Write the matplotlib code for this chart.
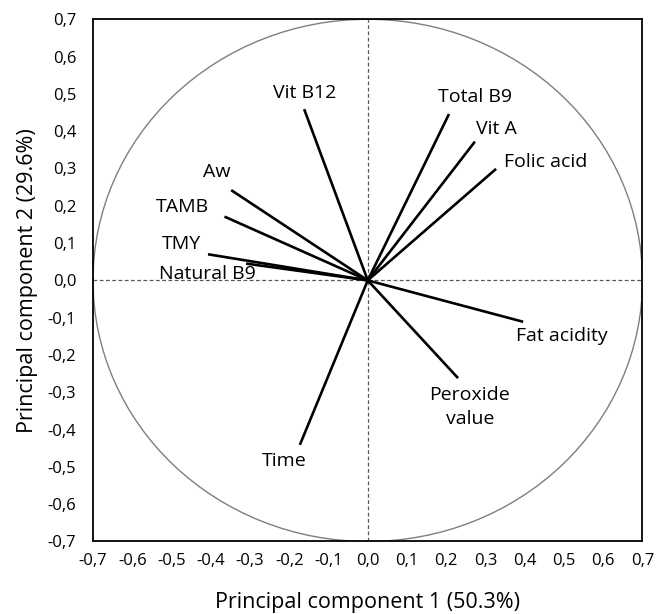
import numpy as np
import matplotlib
matplotlib.use("Agg")
import matplotlib.pyplot as plt
from matplotlib.patches import Ellipse

plt.rcParams['font.family'] = ['Open Sans', 'DejaVu Sans']

# loadings (PC1, PC2)
variables = ["Vit B12", "Total B9", "Vit A", "Folic acid", "Aw", "TAMB", "TMY",
             "Natural B9", "Fat acidity", "Peroxide\nvalue", "Time"]
pc1 = [-0.162, 0.207, 0.273, 0.327, -0.348, -0.365, -0.407, -0.31, 0.396, 0.230, -0.173]
pc2 = [0.459, 0.446, 0.372, 0.299, 0.242, 0.171, 0.070, 0.045, -0.111, -0.262, -0.441]

# where each label sits (centre)
label_x = [-0.161, 0.274, 0.328, 0.453, -0.384, -0.473, -0.475, -0.408, 0.495, 0.260, -0.212]
label_y = [0.502, 0.492, 0.406, 0.317, 0.291, 0.197, 0.098, 0.017, -0.149, -0.34, -0.483]

ticks = np.round(np.arange(-0.7, 0.71, 0.1), 1)
tick_labels = [f"{t:.1f}".replace(".", ",").replace("-0,0", "0,0") for t in ticks]

fig = plt.figure(figsize=(6.56, 6.14), dpi=100)
ax = fig.add_axes([0.1418, 0.1181, 0.8376, 0.8505])

# correlation circle
circle = Ellipse((0, 0), 1.4, 1.4, fill=False, edgecolor="#7f7f7f", linewidth=1.0)
ax.add_patch(circle)
ax.axhline(0, color="#595959", linestyle=(0, (3, 2)), linewidth=0.9, zorder=1)
ax.axvline(0, color="#595959", linestyle=(0, (3, 2)), linewidth=0.9, zorder=1)

for x, y in zip(pc1, pc2):
    ax.plot([0, x], [0, y], color="black", linewidth=1.9, solid_capstyle="butt", zorder=3)

for name, lx, ly in zip(variables, label_x, label_y):
    ax.text(lx, ly, name, ha="center", va="center", fontsize=14,
            linespacing=1.45, zorder=4)

ax.set_xlim(-0.7, 0.7)
ax.set_ylim(-0.7, 0.7)
ax.set_xticks(ticks)
ax.set_yticks(ticks)
ax.set_xticklabels(tick_labels)
ax.set_yticklabels(tick_labels)
ax.tick_params(axis="x", length=0, pad=8, labelsize=12)
ax.tick_params(axis="y", length=0, pad=12, labelsize=12)
for spine in ax.spines.values():
    spine.set_linewidth(1.3)
    spine.set_color("black")

ax.set_xlabel("Principal component 1 (50.3%)", fontsize=15.5, labelpad=17)
ax.set_ylabel("Principal component 2 (29.6%)", fontsize=15.5, labelpad=7)

fig.savefig("out.png", dpi=100)
